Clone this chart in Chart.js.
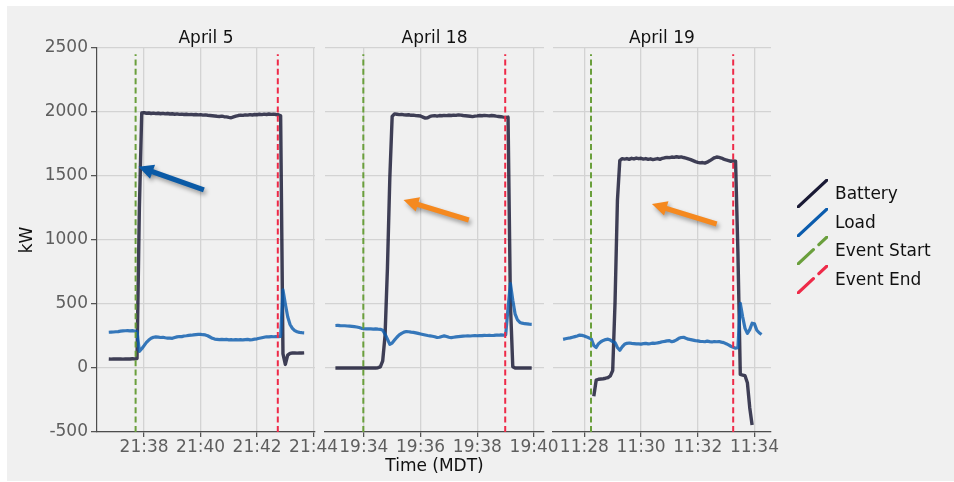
<!DOCTYPE html>
<html>
<head>
<meta charset="utf-8">
<script src="https://cdn.jsdelivr.net/npm/chart.js@4.4.1/dist/chart.umd.min.js"></script>
<style>
  html, body { margin: 0; padding: 0; background: #ffffff; }
  #fig { position: relative; width: 954px; height: 482px; overflow: hidden; background: #ffffff;
         font-family: 'DejaVu Sans', sans-serif; }
  #bg { position: absolute; left: 7px; top: 6px; width: 947px; height: 475px; background: #f0f0f0; }
  canvas { position: absolute; top: 0; }
  #legend { position: absolute; left: 796px; top: 179px; }
  .row { position: relative; height: 28.6px; width: 150px; }
  .row svg { position: absolute; left: 0.7px; top: 0; }
  .row span { position: absolute; left: 39px; top: 0; line-height: 28.6px; font-size: 17px; color: #111; white-space: nowrap; }
</style>
</head>
<body>
<div id="fig">
  <div id="bg"></div>
  <canvas id="p1" width="360" height="482" style="left:0px"></canvas>
  <canvas id="p2" width="300" height="482" style="left:300px"></canvas>
  <canvas id="p3" width="300" height="482" style="left:530px"></canvas>
  <div id="legend"></div>
</div>
<script>
// ---- series: kW sampled every 5 seconds from the start time ----
const SAMPLE_STEP_S = 5;

const apr5Start = '21:36:45';
const apr5Battery = [
  70, 69, 71, 70, 70, 71, 69, 70, 71, 70, 72, 71, 74,
  1250, 1992,
  1995, 1990, 1992, 1988, 1991, 1987, 1990, 1986, 1989, 1985,
  1988, 1984, 1986, 1982, 1985, 1981, 1983, 1980, 1982, 1979,
  1981, 1978, 1980, 1977, 1979, 1975, 1977, 1974, 1972, 1970,
  1968, 1966, 1965, 1967, 1963, 1962, 1958, 1955, 1962, 1968,
  1972, 1975, 1973, 1977, 1975, 1979, 1976, 1980, 1978, 1982,
  1979, 1983, 1980, 1984, 1981, 1983, 1980, 1978,
  1970, 110, 28, 100, 114,
  117, 118, 116, 118, 117, 118
];
const apr5Load = [
  279, 280, 281, 283, 284, 288, 290, 291, 292, 290,
  292, 289, 286, 130, 150, 175, 200, 218, 232, 240,
  243, 241, 238, 240, 236, 233, 234, 232, 238, 243,
  246, 245, 250, 252, 255, 256, 258, 260, 262, 263,
  260, 258, 252, 242, 232, 226, 224, 222, 224, 221,
  223, 220, 222, 219, 221, 220, 222, 219, 221, 223,
  220, 222, 225, 228, 232, 236, 240, 244, 243, 245,
  244, 246, 244, 246, 610, 500, 400, 340, 310, 292,
  283, 278, 276, 275
];

const apr18Start = '19:33:00';
const apr18Battery = [
  0, 0, 0, 0, 0, 0, 0, 0, 0, 0,
  0, 0, 0, 0, 0, 0, 0, 0, 2, 8,
  55, 255, 780, 1480, 1965, 1985, 1982, 1979, 1981, 1977,
  1976, 1978, 1974, 1975, 1971, 1970, 1968, 1960, 1952, 1955,
  1965, 1969, 1971, 1968, 1972, 1970, 1973, 1971, 1974, 1972,
  1975, 1973, 1977, 1975, 1972, 1970, 1968, 1966, 1964, 1967,
  1969, 1972, 1970, 1973, 1971, 1969, 1972, 1970, 1967, 1965,
  1963, 1960, 1958, 1960, 500, 10, 0, 0, 0, 0,
  0, 0, 0, 0
];
const apr18Load = [
  332, 333, 331, 330, 330, 328, 327, 325, 323, 320,
  316, 310, 307, 305, 306, 305, 304, 305, 303, 302,
  295, 265, 225, 185, 195, 218, 240, 258, 270, 280,
  285, 283, 280, 278, 274, 270, 266, 262, 258, 254,
  251, 248, 244, 238, 240, 246, 251, 246, 240, 237,
  240, 243, 245, 247, 249, 250, 251, 250, 252, 253,
  252, 254, 253, 255, 254, 256, 254, 255, 257, 256,
  258, 257, 258, 470, 660, 530, 420, 375, 356, 350,
  346, 344, 342, 341
];

const apr19BatteryStart = '11:28:20';
const apr19Battery = [
  -220, -95, -88, -86, -84, -80, -75, -62, -20, 520,
  1310, 1620, 1635, 1632, 1636, 1630, 1638, 1633, 1640, 1635,
  1638, 1632, 1636, 1630, 1634, 1628, 1632, 1636, 1630, 1638,
  1642, 1645, 1643, 1648, 1645, 1650, 1646, 1649, 1644, 1640,
  1634, 1628, 1620, 1612, 1606, 1602, 1605, 1600, 1608, 1618,
  1630, 1642, 1648, 1645, 1640, 1632, 1625, 1620, 1615, 1618,
  1615, 900, -50, -55, -60, -115, -310, -445
];
const apr19LoadStart = '11:27:15';
const apr19Load = [
  224, 228, 232, 235, 240, 245, 250, 257, 255, 250,
  243, 235, 225, 175, 160, 190, 205, 215, 222, 225,
  218, 206, 198, 160, 138, 165, 185, 193, 195, 192,
  190, 188, 189, 187, 190, 192, 189, 191, 194, 193,
  196, 200, 205, 208, 212, 214, 205, 210, 220, 232,
  238, 240, 232, 225, 222, 218, 214, 212, 208, 207,
  205, 210, 206, 203, 207, 205, 207, 202, 198, 190,
  180, 170, 162, 155, 158, 505, 400, 310, 270, 300,
  350, 345, 295, 275, 262
];

// ---- event markers (clock time) ----
const apr5Events = ['21:37:42', '21:42:44'];
const apr18Events = ['19:33:59', '19:38:59'];
const apr19Events = ['11:28:14', '11:33:15'];
const eventSpan = [-500, 2450];

// ---- axes ----
const yTicks = [-500, 0, 500, 1000, 1500, 2000, 2500];
const apr5Ticks = ['21:38', '21:40', '21:42', '21:44'];
const apr18Ticks = ['19:34', '19:36', '19:38', '19:40'];
const apr19Ticks = ['11:28', '11:30', '11:32', '11:34'];
const apr5Range = ['21:36:20', '21:44:03'];
const apr18Range = ['19:32:38', '19:40:21'];
const apr19Range = ['11:26:53', '11:34:35'];

// ---- callout arrows: [time, kW] tail -> head ----
const apr5Arrow = [['21:40:07', 1391], ['21:37:48', 1572]];
const apr18Arrow = [['19:37:42', 1156], ['19:35:24', 1312]];
const apr19Arrow = [['11:32:40', 1125], ['11:30:23', 1281]];

const seriesNames = ['Battery', 'Load'];
const eventNames = ['Event Start', 'Event End'];

const COLORS = {
  battery: 'rgba(22, 22, 50, 0.82)',
  load: 'rgba(11, 92, 173, 0.82)',
  start: '#6a9f3c',
  end: '#ee2a48',
  batteryKey: '#1a1a35',
  loadKey: '#0b5cad'
};
const GRID = '#d3d3d3';
const AXIS = '#4d4d4d';
const TICK_TEXT = '#5e5e5e';

Chart.defaults.font.family = "'DejaVu Sans', sans-serif";
Chart.defaults.font.size = 17;

function toMin(t) {
  const p = t.split(':').map(Number);
  return p[0] * 60 + p[1] + (p[2] || 0) / 60;
}
function clock(v) {
  const total = Math.round(v);
  const h = Math.floor(total / 60), m = total % 60;
  return String(h).padStart(2, '0') + ':' + String(m).padStart(2, '0');
}
function series(start, values) {
  const t0 = toMin(start);
  return values.map((v, i) => ({ x: t0 + i * SAMPLE_STEP_S / 60, y: v }));
}
function eventLine(t) {
  return eventSpan.map(v => ({ x: toMin(t), y: v }));
}

function arrowPlugin(arrow, color) {
  return {
    id: 'callout',
    afterDatasetsDraw(chart) {
      const ctx = chart.ctx, xs = chart.scales.x, ys = chart.scales.y;
      const x0 = xs.getPixelForValue(toMin(arrow[0][0])), y0 = ys.getPixelForValue(arrow[0][1]);
      const x1 = xs.getPixelForValue(toMin(arrow[1][0])), y1 = ys.getPixelForValue(arrow[1][1]);
      const a = Math.atan2(y1 - y0, x1 - x0);
      const c = Math.cos(a), s = Math.sin(a), nx = -s, ny = c;
      const headLen = 15, headHalf = 7.5, half = 2.6;
      const bx = x1 - headLen * c, by = y1 - headLen * s;
      ctx.save();
      ctx.shadowColor = 'rgba(0,0,0,0.35)';
      ctx.shadowBlur = 4;
      ctx.shadowOffsetX = 2;
      ctx.shadowOffsetY = 3;
      ctx.fillStyle = color;
      ctx.beginPath();
      ctx.moveTo(x0 + nx * half, y0 + ny * half);
      ctx.lineTo(bx + nx * half, by + ny * half);
      ctx.lineTo(bx + nx * headHalf, by + ny * headHalf);
      ctx.lineTo(x1, y1);
      ctx.lineTo(bx - nx * headHalf, by - ny * headHalf);
      ctx.lineTo(bx - nx * half, by - ny * half);
      ctx.lineTo(x0 - nx * half, y0 - ny * half);
      ctx.closePath();
      ctx.fill();
      ctx.restore();
    }
  };
}

function makePanel(id, p) {
  const datasets = [
    { data: eventLine(p.events[0]), borderColor: COLORS.start, borderWidth: 2, borderDash: [6, 3.4] },
    { data: eventLine(p.events[1]), borderColor: COLORS.end, borderWidth: 2, borderDash: [6, 3.4] },
    { data: p.load, borderColor: COLORS.load, borderWidth: 3.2 },
    { data: p.battery, borderColor: COLORS.battery, borderWidth: 3.4 }
  ].map(d => Object.assign({ pointRadius: 0, tension: 0, fill: false, borderJoinStyle: 'round', borderCapStyle: 'butt' }, d));

  return new Chart(document.getElementById(id), {
    type: 'line',
    data: { datasets },
    plugins: [arrowPlugin(p.arrow, p.arrowColor)],
    options: {
      responsive: false,
      animation: false,
      events: [],
      layout: { padding: { left: p.padLeft, right: p.padRight, top: 28.4, bottom: 4.8 } },
      plugins: {
        legend: { display: false },
        tooltip: { enabled: false },
        title: {
          display: true, text: p.title, fullSize: false, color: '#111',
          font: { size: 17, weight: 'normal', lineHeight: 1.15 }, padding: 0
        }
      },
      scales: {
        x: {
          type: 'linear',
          min: toMin(p.range[0]), max: toMin(p.range[1]),
          afterBuildTicks: s => { s.ticks = p.ticks.map(t => ({ value: toMin(t) })); },
          afterFit: s => { s.height = 45.2; },
          ticks: { autoSkip: false, maxRotation: 0, minRotation: 0, padding: 0, color: TICK_TEXT,
                   callback: v => clock(v) },
          grid: { color: GRID, lineWidth: 1.3, tickColor: AXIS, tickLength: 5, tickWidth: 1.2 },
          border: { display: true, color: AXIS, width: 1.2 },
          title: p.xTitle
            ? { display: true, text: p.xTitle, color: '#111', padding: 0 }
            : { display: false }
        },
        y: {
          min: -500, max: 2500,
          afterBuildTicks: s => { s.ticks = yTicks.map(v => ({ value: v })); },
          afterFit: s => { s.width = p.yWidth; },
          ticks: { display: p.showY, padding: 3, color: TICK_TEXT, callback: v => String(v) },
          grid: { color: GRID, lineWidth: 1.3, drawTicks: p.showY, tickColor: AXIS, tickLength: 6, tickWidth: 1.2 },
          border: { display: p.showY, color: AXIS, width: 1.2 },
          title: p.showY
            ? { display: true, text: 'kW', color: '#111', padding: { top: 17.8, bottom: 0 } }
            : { display: false }
        }
      }
    }
  });
}

makePanel('p1', {
  title: 'April 5', range: apr5Range, ticks: apr5Ticks, events: apr5Events,
  battery: series(apr5Start, apr5Battery), load: series(apr5Start, apr5Load),
  arrow: apr5Arrow, arrowColor: '#0a5aa6',
  padLeft: 0, padRight: 45, yWidth: 97, showY: true
});
makePanel('p2', {
  title: 'April 18', range: apr18Range, ticks: apr18Ticks, events: apr18Events,
  battery: series(apr18Start, apr18Battery), load: series(apr18Start, apr18Load),
  arrow: apr18Arrow, arrowColor: '#f5891f', xTitle: 'Time (MDT)',
  padLeft: 25, padRight: 56, yWidth: 0, showY: false
});
makePanel('p3', {
  title: 'April 19', range: apr19Range, ticks: apr19Ticks, events: apr19Events,
  battery: series(apr19BatteryStart, apr19Battery), load: series(apr19LoadStart, apr19Load),
  arrow: apr19Arrow, arrowColor: '#f5891f',
  padLeft: 22.7, padRight: 59, yWidth: 0, showY: false
});

// ---- legend with diagonal line keys ----
const legendItems = [
  { name: seriesNames[0], color: COLORS.batteryKey, dash: null },
  { name: seriesNames[1], color: COLORS.loadKey, dash: null },
  { name: eventNames[0], color: COLORS.start, dash: '21 7.5' },
  { name: eventNames[1], color: COLORS.end, dash: '21 7.5' }
];
const legend = document.getElementById('legend');
legendItems.forEach(item => {
  const row = document.createElement('div');
  row.className = 'row';
  const dash = item.dash ? ` stroke-dasharray="${item.dash}"` : '';
  row.innerHTML =
    `<svg width="31" height="29" viewBox="0 0 31 29">` +
    `<line x1="1" y1="28" x2="30" y2="1" stroke="${item.color}" stroke-width="3.2" stroke-linecap="round"${dash}/></svg>` +
    `<span>${item.name}</span>`;
  legend.appendChild(row);
});
</script>
</body>
</html>
